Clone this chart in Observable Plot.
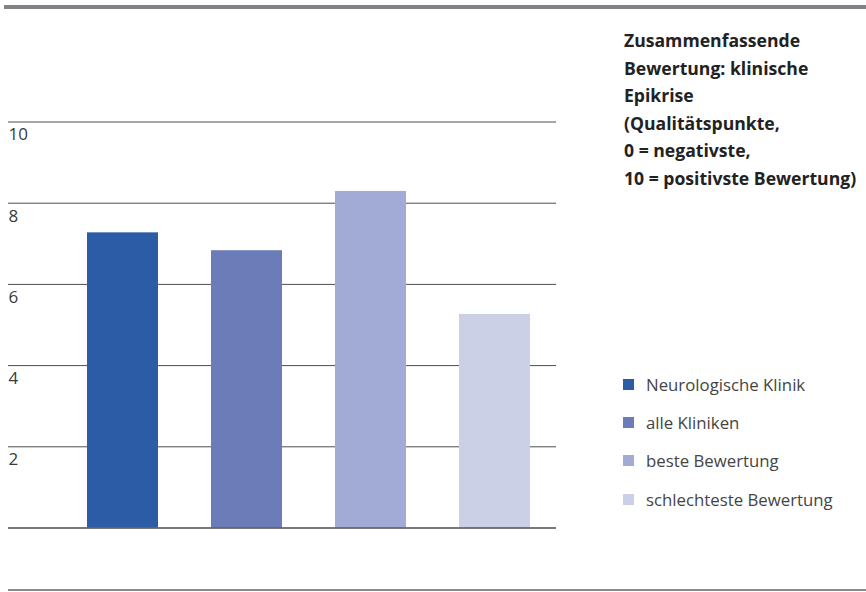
<!DOCTYPE html>
<html><head><meta charset="utf-8">
<script src="https://cdn.jsdelivr.net/npm/d3@7"></script>
<script src="https://cdn.jsdelivr.net/npm/@observablehq/plot@0.6"></script>
<style>
body{margin:0;background:#fff;}
#wrap{position:relative;width:866px;height:592px;overflow:hidden;font-family:"Open Sans",sans-serif;}
#chart{position:absolute;left:0;top:0;}
.topline{position:absolute;left:4px;top:5px;width:862px;height:4px;background:#808285;}
.botline{position:absolute;left:8px;top:589px;width:858px;height:2px;background:#8c8c8c;}
#title{position:absolute;left:624px;top:27px;font-weight:700;font-size:17.6px;line-height:27.6px;color:#222;white-space:nowrap;}
#legend{position:absolute;left:623px;top:365px;}
.item{display:flex;align-items:center;height:38.4px;font-size:16.8px;color:#444;white-space:nowrap;}
.sw{width:11px;height:11px;margin-right:12px;flex:none;}
</style>
</head><body>
<div id="wrap">
  <div id="chart"></div>
  <div class="topline"></div>
  <div class="botline"></div>
  <div id="title"></div>
  <div id="legend"></div>
</div>
<script>
const categories = ["Neurologische Klinik", "alle Kliniken", "beste Bewertung", "schlechteste Bewertung"];
const values = [7.27, 6.83, 8.29, 5.26];
const colors = ["#2d5ca7", "#6c7cb9", "#a2abd5", "#cbd0e7"];
const yTicks = [2, 4, 6, 8, 10];
const titleLines = ["Zusammenfassende", "Bewertung: klinische", "Epikrise", "(Qualitätspunkte,", "0 = negativste,", "10 = positivste Bewertung)"];

const data = categories.map((c, i) => ({category: c, value: values[i]}));

const plot = Plot.plot({
  width: 866,
  height: 592,
  marginLeft: 8,
  marginRight: 310,
  marginTop: 121.5,
  marginBottom: 64.5,
  x: {domain: categories, range: [60.35, 556.35], paddingInner: 0.4234, paddingOuter: 0.2117, axis: null},
  y: {domain: [0, 10], axis: null},
  color: {domain: categories, range: colors},
  style: {fontFamily: "Open Sans, sans-serif", background: "transparent"},
  marks: [
    Plot.ruleY(yTicks, {stroke: "#4d4d4d", strokeWidth: 1}),
    Plot.barY(data, {x: "category", y: "value", fill: "category"}),
    Plot.ruleY([0], {stroke: "#4d4d4d", strokeWidth: 1.3}),
    Plot.text(yTicks, {y: d => d, text: d => String(d), frameAnchor: "left", textAnchor: "start", dy: 13, fill: "#3a3a3a", fontSize: 17})
  ]
});
document.getElementById("chart").appendChild(plot);

document.getElementById("title").innerHTML = titleLines.join("<br>");
const legend = document.getElementById("legend");
categories.forEach((c, i) => {
  const item = document.createElement("div");
  item.className = "item";
  const sw = document.createElement("span");
  sw.className = "sw";
  sw.style.background = colors[i];
  const label = document.createElement("span");
  label.textContent = c;
  item.appendChild(sw);
  item.appendChild(label);
  legend.appendChild(item);
});
</script>
</body></html>
